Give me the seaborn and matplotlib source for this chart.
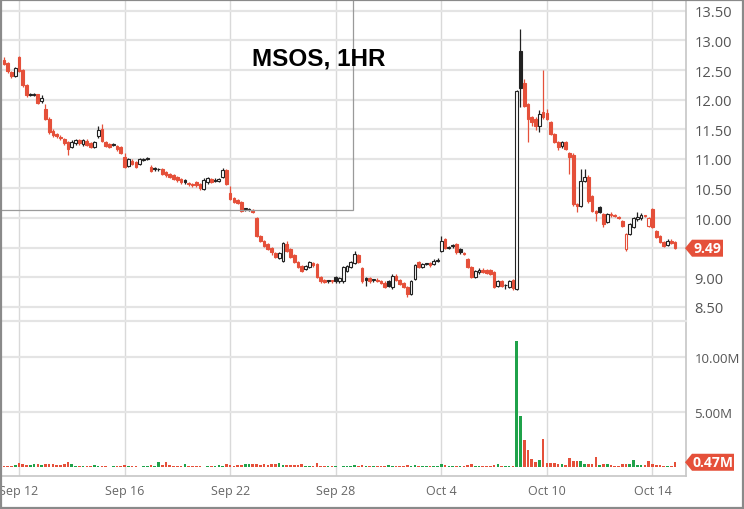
import numpy as np
import pandas as pd
import matplotlib
matplotlib.use("Agg")
import matplotlib.pyplot as plt
import seaborn as sns
from matplotlib.patches import Rectangle, Polygon
from matplotlib.transforms import IdentityTransform

# ---------------- data (hourly bars, Sep 9 - Oct 14) ----------------
opens = [
    12.67, 12.62, 12.46, 12.40,
    12.72, 12.50, 12.24, 12.10, 12.09, 12.09, 11.97,
    11.85, 11.68, 11.47, 11.42, 11.36, 11.34, 11.28,
    11.20, 11.27, 11.31, 11.25, 11.30, 11.26, 11.20,
    11.38, 11.50, 11.28, 11.25, 11.24, 11.22, 11.20,
    11.03, 10.88, 10.97, 10.94, 10.92, 10.98, 11.00,
    10.87, 10.85, 10.82, 10.82, 10.78, 10.74, 10.72,
    10.69, 10.66, 10.64, 10.58, 10.57, 10.60, 10.57,
    10.49, 10.60, 10.66, 10.65, 10.63, 10.69, 10.81,
    10.43, 10.33, 10.30, 10.27, 10.15, 10.13, 10.14,
    10.00, 9.69, 9.61, 9.56, 9.49, 9.41, 9.33,
    9.27, 9.56, 9.47, 9.38, 9.26, 9.19, 9.14,
    9.17, 9.24, 9.22, 9.00, 8.95, 8.94, 8.94,
    9.00, 8.93, 8.93, 9.10, 9.17, 9.24, 9.38,
    9.15, 8.98, 8.98, 8.95, 8.96, 8.93, 8.91,
    8.93, 8.83, 9.02, 8.95, 8.90, 8.83, 8.72,
    8.97, 9.25, 9.17, 9.22, 9.24, 9.22, 9.27,
    9.44, 9.64, 9.50, 9.53, 9.56, 9.48, 9.40,
    9.30, 9.17, 9.00, 9.08, 9.13, 9.12, 9.12,
    9.08, 8.85, 8.93, 8.86, 8.83, 8.95, 8.80,
    12.82, 12.28, 11.92, 11.70, 11.67, 11.55, 11.79,
    11.78, 11.62, 11.42, 11.28, 11.21, 11.28, 11.10,
    11.07, 10.23, 10.20, 10.62, 10.70, 10.37, 10.12,
    10.18, 10.06, 9.93, 10.05, 10.04, 10.01, 9.95,
    9.47, 9.73, 9.85, 9.98, 10.00, 10.03, 9.87,
    10.15, 9.78, 9.69, 9.59, 9.55, 9.62, 9.60,
]
highs = [
    12.72, 12.64, 12.48, 12.55,
    12.74, 12.52, 12.26, 12.12, 12.11, 12.10, 12.08,
    11.92, 11.70, 11.50, 11.44, 11.40, 11.36, 11.30,
    11.32, 11.34, 11.34, 11.33, 11.33, 11.28, 11.30,
    11.55, 11.58, 11.30, 11.27, 11.26, 11.24, 11.22,
    11.10, 11.02, 10.99, 10.96, 11.01, 11.02, 11.03,
    10.90, 10.87, 10.84, 10.84, 10.80, 10.76, 10.74,
    10.71, 10.68, 10.66, 10.60, 10.59, 10.62, 10.59,
    10.67, 10.70, 10.68, 10.67, 10.68, 10.84, 10.83,
    10.54, 10.35, 10.32, 10.29, 10.17, 10.17, 10.16,
    10.02, 9.71, 9.63, 9.58, 9.51, 9.43, 9.42,
    9.59, 9.62, 9.49, 9.40, 9.28, 9.21, 9.21,
    9.28, 9.26, 9.24, 9.02, 8.97, 8.96, 8.96,
    9.02, 9.00, 9.19, 9.21, 9.27, 9.44, 9.40,
    9.17, 9.00, 9.00, 8.97, 8.98, 8.95, 8.93,
    8.95, 9.05, 9.05, 8.97, 8.92, 8.85, 8.95,
    9.22, 9.27, 9.24, 9.24, 9.26, 9.30, 9.33,
    9.69, 9.66, 9.53, 9.56, 9.58, 9.50, 9.42,
    9.32, 9.19, 9.12, 9.15, 9.15, 9.14, 9.14,
    9.10, 8.95, 8.95, 8.88, 8.95, 8.97, 12.16,
    13.19, 12.35, 11.95, 11.72, 11.70, 11.82, 12.50,
    11.85, 11.64, 11.44, 11.30, 11.30, 11.30, 11.12,
    11.09, 10.25, 10.83, 10.83, 10.72, 10.39, 10.14,
    10.20, 10.08, 10.08, 10.10, 10.06, 10.03, 9.97,
    9.75, 9.92, 10.02, 10.10, 10.08, 10.05, 10.02,
    10.17, 9.80, 9.71, 9.61, 9.64, 9.64, 9.62,
]
lows = [
    12.58, 12.45, 12.36, 12.38,
    12.46, 12.22, 12.05, 12.06, 12.06, 11.92, 11.95,
    11.65, 11.42, 11.37, 11.35, 11.32, 11.24, 11.06,
    11.18, 11.24, 11.23, 11.22, 11.22, 11.18, 11.18,
    11.36, 11.28, 11.20, 11.18, 11.21, 11.14, 11.08,
    10.84, 10.86, 10.90, 10.84, 10.90, 10.96, 10.98,
    10.78, 10.80, 10.80, 10.72, 10.70, 10.68, 10.64,
    10.60, 10.58, 10.57, 10.54, 10.53, 10.52, 10.48,
    10.47, 10.58, 10.59, 10.60, 10.61, 10.67, 10.55,
    10.30, 10.25, 10.23, 10.10, 10.12, 10.11, 10.08,
    9.68, 9.59, 9.51, 9.46, 9.38, 9.32, 9.31,
    9.25, 9.42, 9.32, 9.24, 9.15, 9.09, 9.12,
    9.15, 9.18, 8.98, 8.91, 8.90, 8.91, 8.90,
    8.90, 8.91, 8.91, 9.08, 9.15, 9.22, 9.24,
    8.91, 8.85, 8.91, 8.92, 8.92, 8.88, 8.81,
    8.83, 8.80, 8.93, 8.86, 8.81, 8.66, 8.70,
    8.95, 9.15, 9.15, 9.20, 9.18, 9.20, 9.25,
    9.42, 9.48, 9.48, 9.50, 9.40, 9.40, 9.37,
    9.15, 8.98, 8.98, 9.06, 9.07, 9.05, 9.03,
    8.81, 8.83, 8.83, 8.80, 8.81, 8.79, 8.78,
    11.87, 11.88, 11.28, 11.55, 11.48, 11.45, 11.68,
    11.65, 11.40, 11.26, 11.15, 11.19, 11.15, 10.74,
    10.20, 10.10, 10.18, 10.60, 10.26, 10.10, 9.95,
    10.08, 9.85, 9.91, 10.02, 10.01, 9.98, 9.84,
    9.44, 9.71, 9.83, 9.95, 9.97, 10.01, 9.85,
    9.83, 9.66, 9.57, 9.51, 9.53, 9.56, 9.47,
]
closes = [
    12.60, 12.48, 12.40, 12.53,
    12.48, 12.25, 12.08, 12.08, 12.08, 11.95, 12.03,
    11.68, 11.45, 11.40, 11.38, 11.35, 11.27, 11.16,
    11.28, 11.32, 11.26, 11.31, 11.24, 11.20, 11.28,
    11.48, 11.30, 11.22, 11.20, 11.23, 11.16, 11.10,
    10.86, 11.00, 10.92, 10.86, 10.99, 11.00, 11.01,
    10.80, 10.82, 10.82, 10.74, 10.72, 10.70, 10.66,
    10.65, 10.60, 10.60, 10.57, 10.56, 10.55, 10.50,
    10.65, 10.68, 10.61, 10.62, 10.66, 10.81, 10.57,
    10.32, 10.27, 10.25, 10.12, 10.15, 10.15, 10.10,
    9.70, 9.61, 9.53, 9.48, 9.42, 9.34, 9.41,
    9.57, 9.44, 9.34, 9.26, 9.17, 9.11, 9.19,
    9.26, 9.20, 9.00, 8.93, 8.92, 8.94, 8.93,
    8.94, 8.98, 9.17, 9.19, 9.25, 9.39, 9.26,
    8.93, 8.95, 8.93, 8.95, 8.94, 8.90, 8.83,
    8.85, 9.02, 8.95, 8.88, 8.83, 8.71, 8.93,
    9.20, 9.17, 9.22, 9.22, 9.20, 9.27, 9.28,
    9.61, 9.50, 9.51, 9.53, 9.42, 9.42, 9.39,
    9.17, 9.00, 9.10, 9.13, 9.09, 9.07, 9.05,
    8.83, 8.93, 8.85, 8.86, 8.93, 8.81, 12.14,
    12.20, 11.90, 11.67, 11.62, 11.55, 11.75, 11.70,
    11.67, 11.42, 11.28, 11.20, 11.28, 11.17, 11.03,
    10.23, 10.20, 10.62, 10.70, 10.28, 10.12, 10.08,
    10.10, 9.90, 10.06, 10.05, 10.03, 10.00, 9.86,
    9.73, 9.90, 10.00, 10.02, 10.05, 10.03, 10.00,
    9.85, 9.68, 9.59, 9.53, 9.62, 9.58, 9.49,
]
volumes_m = [
    0.10, 0.12, 0.15, 0.18,
    0.40, 0.30, 0.25, 0.22, 0.28, 0.30, 0.25,
    0.35, 0.30, 0.28, 0.25, 0.20, 0.30, 0.45,
    0.30, 0.15, 0.12, 0.15, 0.10, 0.12, 0.20,
    0.10, 0.12, 0.10, 0.08, 0.10, 0.12, 0.15,
    0.20, 0.10, 0.12, 0.10, 0.08, 0.10, 0.15,
    0.25, 0.15, 0.50, 0.20, 0.45, 0.25, 0.15,
    0.15, 0.12, 0.30, 0.10, 0.10, 0.12, 0.10,
    0.08, 0.10, 0.12, 0.10, 0.20, 0.15, 0.30,
    0.20, 0.15, 0.25, 0.25, 0.30, 0.28, 0.30,
    0.30, 0.25, 0.30, 0.25, 0.35, 0.30, 0.40,
    0.25, 0.20, 0.25, 0.20, 0.25, 0.30, 0.15,
    0.10, 0.12, 0.40, 0.15, 0.10, 0.10, 0.12,
    0.10, 0.08, 0.10, 0.12, 0.10, 0.20, 0.15,
    0.20, 0.10, 0.12, 0.10, 0.10, 0.12, 0.15,
    0.20, 0.15, 0.10, 0.12, 0.15, 0.20, 0.15,
    0.20, 0.15, 0.10, 0.12, 0.15, 0.10, 0.12,
    0.35, 0.20, 0.15, 0.10, 0.15, 0.12, 0.10,
    0.20, 0.30, 0.10, 0.12, 0.10, 0.15, 0.12,
    0.25, 0.30, 0.15, 0.10, 0.15, 0.12, 11.45,
    4.70, 2.50, 1.60, 0.75, 0.50, 0.65, 2.60,
    0.40, 0.40, 0.40, 0.30, 0.35, 0.20, 0.85,
    0.55, 0.60, 0.60, 0.35, 0.35, 0.35, 0.95,
    0.20, 0.35, 0.30, 0.20, 0.10, 0.15, 0.35,
    0.35, 0.35, 0.65, 0.20, 0.25, 0.20, 0.55,
    0.30, 0.25, 0.20, 0.15, 0.10, 0.12, 0.47,
]
date_tick_bars = [4, 32, 60, 88, 116, 144, 172]
date_tick_labels = ["Sep 12", "Sep 16", "Sep 22", "Sep 28", "Oct 4", "Oct 10", "Oct 14"]
price_ticks = [8.5, 9.0, 9.5, 10.0, 10.5, 11.0, 11.5, 12.0, 12.5, 13.0, 13.5]
volume_ticks = [5.0, 10.0]
title_text = "MSOS, 1HR"

# ---------------- style ----------------
RED = "#e5503a"
GREEN = "#1fa24a"
BLACK = "#222222"
GRID = "#e4e4e4"
VGRID = "#d9d9d9"
SPINE = "#c8c8c8"
LABEL = "#555555"

sns.set_theme(style="white")
plt.rcParams["font.family"] = ["Open Sans", "DejaVu Sans"]

W, H = 744, 510
fig = plt.figure(figsize=(W / 100, H / 100), dpi=100)
fig.patch.set_facecolor("white")


def frac(x0, y0, x1, y1):
    return [x0 / W, 1 - y1 / H, (x1 - x0) / W, (y1 - y0) / H]


axp = fig.add_axes(frac(1, 0, 686, 322))
axv = fig.add_axes(frac(1, 322, 686, 476.5), sharex=axp)

o = np.array(opens)
h = np.array(highs)
l = np.array(lows)
c = np.array(closes)
v = np.array(volumes_m)
idx = np.arange(len(c))
prev = np.r_[o[0], c[:-1]]
is_red = c < prev
edge = np.where(is_red, RED, BLACK)
face = np.where(c >= o, "white", edge)

# ---------------- price panel ----------------
axp.vlines(idx, l, h, colors=edge, linewidth=0.9, zorder=2)
axp.bar(idx, np.maximum(np.abs(c - o), 0.015), bottom=np.minimum(o, c),
        width=0.72, color=face, edgecolor=edge, linewidth=0.8, zorder=3)

axp.set_xlim(-0.77, 180.9)
axp.set_ylim(8.26, 13.70)
axp.yaxis.tick_right()
axp.set_yticks(price_ticks)
axp.set_yticklabels(["" if abs(t - 9.5) < 1e-9 else f"{t:.2f}" for t in price_ticks])
axp.tick_params(axis="y", length=0, pad=6, labelsize=10.5, labelcolor=LABEL)
axp.set_xticks(date_tick_bars)
axp.tick_params(axis="x", bottom=False, labelbottom=False)
axp.grid(axis="y", color=GRID, linewidth=1.6, zorder=0)
axp.grid(axis="x", color=VGRID, linewidth=1.0, zorder=0)
axp.set_axisbelow(True)
for s in ["top", "left", "bottom"]:
    axp.spines[s].set_visible(False)
axp.spines["right"].set_color(SPINE)

# ---------------- volume panel ----------------
vol_df = pd.DataFrame({"bar": idx, "vol": v,
                       "dir": np.where(is_red, "down", "up")})
sns.barplot(data=vol_df, x="bar", y="vol", hue="dir",
            palette={"up": GREEN, "down": RED}, native_scale=True,
            dodge=False, legend=False, errorbar=None, width=0.7,
            saturation=1, linewidth=0, ax=axv, zorder=3)
axv.set_xlim(-0.77, 180.9)
axv.set_ylim(-0.73, 13.27)
axv.set_xlabel("")
axv.set_ylabel("")
axv.yaxis.tick_right()
axv.set_yticks(volume_ticks)
axv.set_yticklabels([f"{t:.2f}M" for t in volume_ticks])
axv.tick_params(axis="y", length=0, pad=6, labelsize=9.5, labelcolor=LABEL)
axv.set_xticks(date_tick_bars)
axv.set_xticklabels(date_tick_labels)
axv.tick_params(axis="x", length=0, pad=6, labelsize=9, labelcolor="#666666")
axv.grid(axis="y", color=GRID, linewidth=1.6, zorder=0)
axv.grid(axis="x", color=VGRID, linewidth=1.0, zorder=0)
axv.set_axisbelow(True)
axv.spines["left"].set_visible(False)
axv.spines["top"].set_color(GRID)
axv.spines["top"].set_linewidth(1.6)
axv.spines["right"].set_color(SPINE)
axv.spines["bottom"].set_color(SPINE)

# ---------------- badges for last values ----------------
fig.canvas.draw()


def badge(ax, value, text, width):
    y = ax.transData.transform((0, value))[1]
    x0 = ax.transAxes.transform((1, 0))[0]
    hh = 8.5
    pts = [(x0 - 1, y), (x0 + 6, y + hh), (x0 + 6 + width, y + hh),
           (x0 + 6 + width, y - hh), (x0 + 6, y - hh)]
    fig.add_artist(Polygon(pts, closed=True, facecolor=RED, edgecolor="none",
                           transform=IdentityTransform(), zorder=10))
    fig.text(x0 + 6 + width / 2, y, text, transform=IdentityTransform(),
             ha="center", va="center", color="white", fontsize=10,
             fontweight="bold", zorder=11)


badge(axp, c[-1], f"{c[-1]:.2f}", 31)
badge(axv, v[-1], f"{v[-1]:.2f}M", 42)

# ---------------- title, inset box, frame ----------------
fig.text(319 / W, 1 - 59 / H, title_text, ha="center", va="center",
         fontsize=17.5, fontweight="bold", family=["Liberation Sans", "DejaVu Sans"],
         color="black", zorder=12)
fig.add_artist(Rectangle((0, 1 - 211 / H), 353 / W, 211 / H, transform=fig.transFigure,
                         fill=False, edgecolor="#9a9a9a", linewidth=0.9, zorder=9))
fig.add_artist(Rectangle((0.0007, 0.001), 0.9986, 0.998, transform=fig.transFigure,
                         fill=False, edgecolor="#8a8a8a", linewidth=1.6, zorder=13))

fig.savefig("out.png", dpi=100, facecolor="white")
